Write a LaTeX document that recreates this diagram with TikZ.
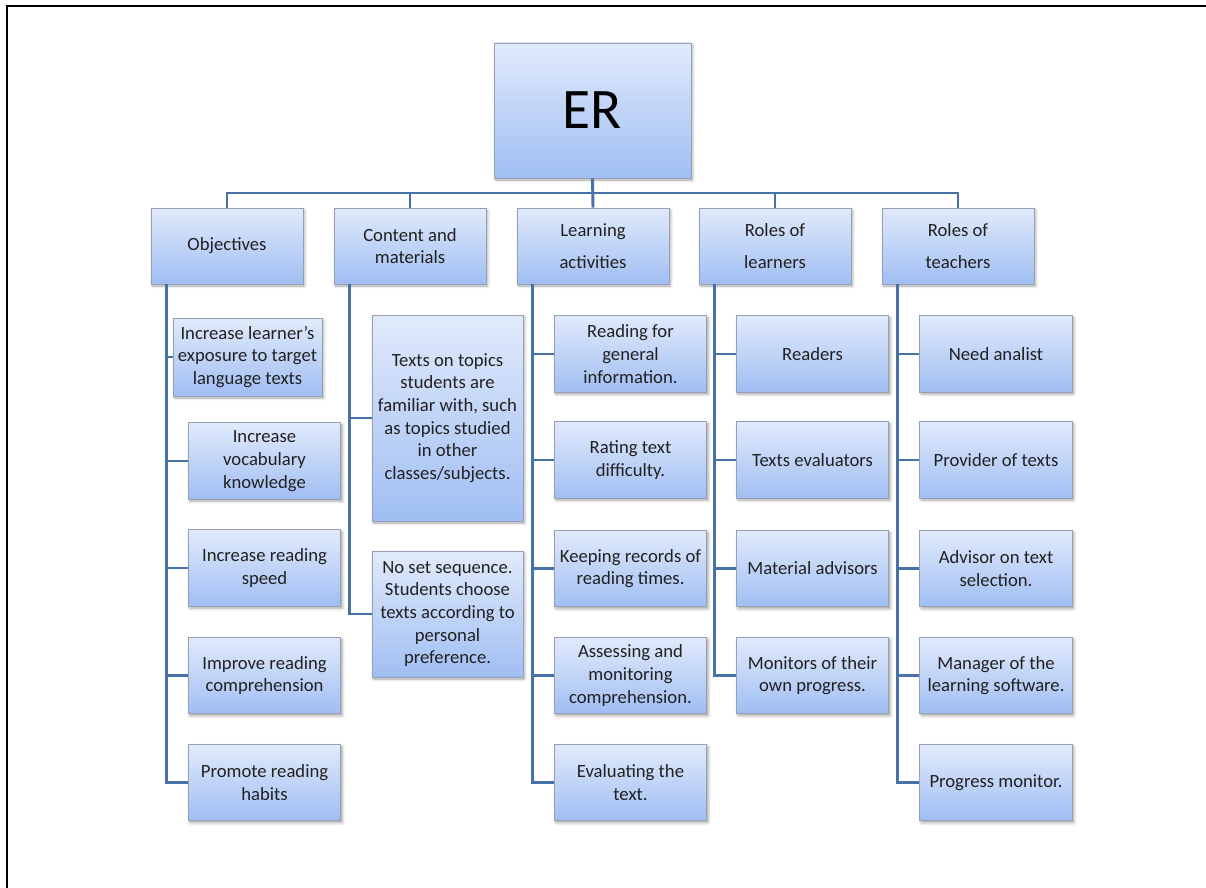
\documentclass[tikz,border=0pt]{standalone}
\usepackage{fontspec}
\setmainfont{Carlito}
\usetikzlibrary{shadows.blur}

\definecolor{boxtop}{RGB}{225,234,251}
\definecolor{boxbot}{RGB}{160,190,243}
\definecolor{boxline}{RGB}{150,160,178}
\definecolor{linkblue}{RGB}{70,114,168}
\definecolor{txt}{RGB}{33,33,33}

\tikzset{
  card/.style={draw=boxline, line width=0.6pt, top color=boxtop, bottom color=boxbot,
    text=txt, align=center, inner sep=2pt, font=\fontsize{14}{17}\selectfont,
    blur shadow={shadow xshift=1.2pt, shadow yshift=-1.5pt, shadow blur radius=2pt, shadow opacity=35}},
  headcard/.style={card, minimum width=114pt, minimum height=57pt},
  itemcard/.style={card, minimum width=114.5pt, minimum height=57.5pt},
  link/.style={draw=linkblue, line width=2.2pt},
}

\begin{document}
\begin{tikzpicture}[x=0.75pt,y=-0.75pt]
\useasboundingbox (0,0) rectangle (1206,888);

%Frame
\draw [line width=1.5pt] (7,888) -- (7,6) -- (1206,6);

%Shape: Root
\node [card, minimum width=147.75pt, minimum height=101.25pt, text=black, font=\fontsize{43}{47}\selectfont] (er) at (592.5,110.5) {ER};

%Shape: Heads
\node [headcard] (obj) at (227,246) {Objectives};
\node [headcard] (cm) at (410,246) {Content and\\materials};
\node [headcard] (la) at (593,246) {Learning\\[7pt]activities};
\node [headcard] (rl) at (775,246) {Roles of\\[7pt]learners};
\node [headcard] (rt) at (958,246) {Roles of\\[7pt]teachers};

%Shape: Objectives
\node [itemcard, minimum width=111.75pt, minimum height=58.5pt] (o1) at (247.5,357) {Increase learner’s\\exposure to target\\language texts};
\node [itemcard] (o2) at (264.5,461) {Increase\\vocabulary\\knowledge};
\node [itemcard] (o3) at (264.5,568) {Increase reading\\speed};
\node [itemcard] (o4) at (264.5,675.5) {Improve reading\\comprehension};
\node [itemcard] (o5) at (264.5,782.5) {Promote reading\\habits};

%Shape: Content and materials
\node [card, minimum width=113.25pt, minimum height=154.5pt] (c1) at (447.5,418) {Texts on topics\\students are\\familiar with, such\\as topics studied\\in other\\classes/subjects.};
\node [card, minimum width=113.25pt, minimum height=94.5pt] (c2) at (447.5,614) {No set sequence.\\Students choose\\texts according to\\personal\\preference.};

%Shape: Learning activities
\node [itemcard] (l1) at (630.5,354) {Reading for\\general\\information.};
\node [itemcard] (l2) at (630.5,460) {Rating text\\difficulty.};
\node [itemcard] (l3) at (630.5,568.5) {Keeping records of\\reading times.};
\node [itemcard] (l4) at (630.5,675.5) {Assessing and\\monitoring\\comprehension.};
\node [itemcard] (l5) at (630.5,782.5) {Evaluating the\\text.};

%Shape: Roles of learners
\node [itemcard] (r1) at (812.5,354) {Readers};
\node [itemcard] (r2) at (812.5,460) {Texts evaluators};
\node [itemcard] (r3) at (812.5,568.5) {Material advisors};
\node [itemcard] (r4) at (812.5,675.5) {Monitors of their\\own progress.};

%Shape: Roles of teachers
\node [itemcard] (t1) at (996,354) {Need analist};
\node [itemcard] (t2) at (996,460) {Provider of texts};
\node [itemcard] (t3) at (996,568.5) {Advisor on text\\selection.};
\node [itemcard] (t4) at (996,675.5) {Manager of the\\learning software.};
\node [itemcard] (t5) at (996,782.5) {Progress monitor.};

%Straight Lines: top bar
\coordinate (bar) at (593,193);
\draw [link] (er.south) -- (la.north);
\draw [link] (obj.north) |- (bar) -| (rt.north);
\foreach \h in {cm,rl}
  \draw [link] (\h.north) -- (\h.north |- bar);

%Straight Lines: spines
\coordinate (os) at ([xshift=12pt]obj.south west);
\coordinate (cs) at ([xshift=12pt]cm.south west);
\coordinate (ls) at ([xshift=12pt]la.south west);
\coordinate (rs) at ([xshift=12pt]rl.south west);
\coordinate (ts) at ([xshift=12pt]rt.south west);
\draw [link] (os) |- (o5.west);
\draw [link] (cs) |- (c2.west);
\draw [link] (ls) |- (l5.west);
\draw [link] (rs) |- (r4.west);
\draw [link] (ts) |- (t5.west);
\foreach \k in {1,...,4} {
  \draw [link] (o\k.west) -- (o\k.west -| os);
  \draw [link] (l\k.west) -- (l\k.west -| ls);
  \draw [link] (t\k.west) -- (t\k.west -| ts);
}
\foreach \k in {1,2,3}
  \draw [link] (r\k.west) -- (r\k.west -| rs);
\draw [link] (c1.west) -- (c1.west -| cs);

\end{tikzpicture}
\end{document}
